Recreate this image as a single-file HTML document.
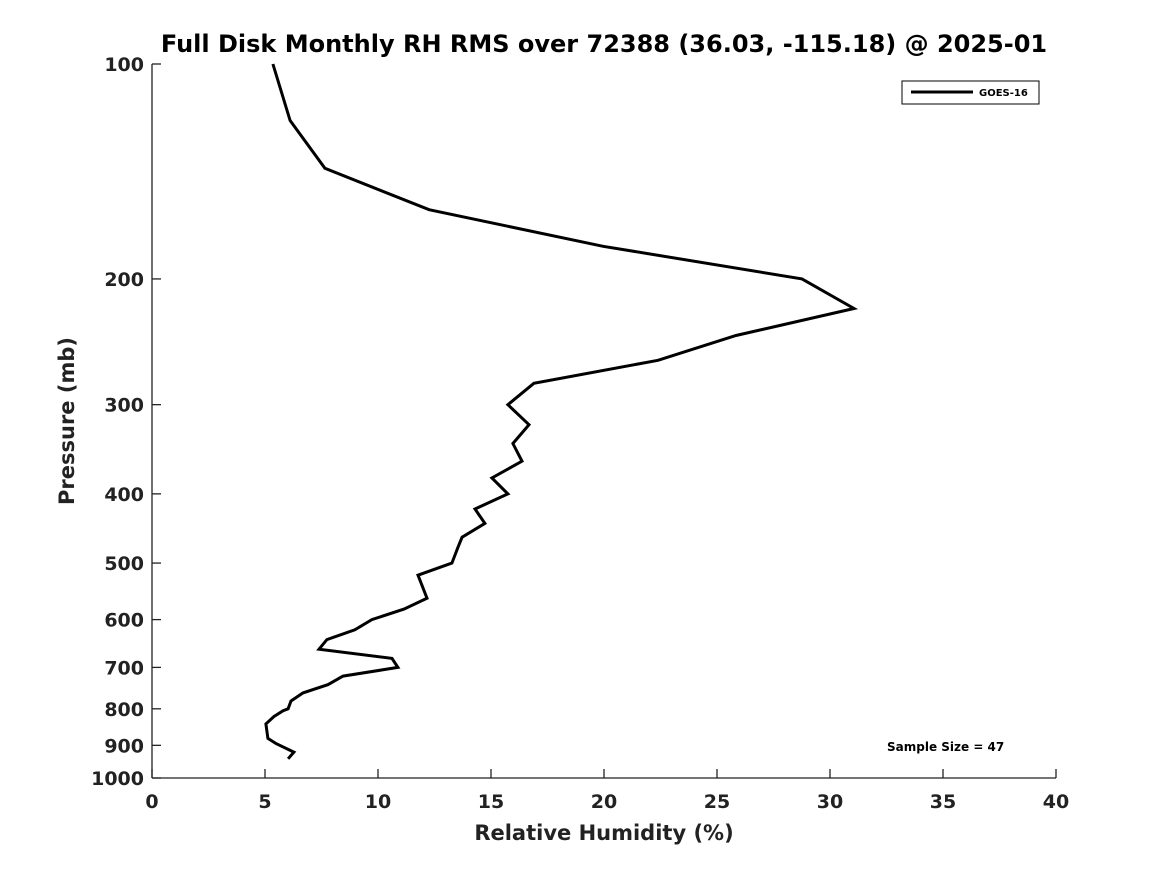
<!DOCTYPE html>
<html><head><meta charset="utf-8"><style>
body{margin:0;background:#fff;}
svg{display:block;font-family:"DejaVu Sans","Liberation Sans",sans-serif;}
</style></head><body>
<svg id="chart" width="1167" height="875" viewBox="0 0 1167 875">
<text x="604" y="52" text-anchor="middle" font-size="24" font-weight="bold" fill="#000">Full Disk Monthly RH RMS over 72388 (36.03, -115.18) @ 2025-01</text>
<g id="axes"></g>
<g id="series"></g>
<g>
<rect x="902" y="81" width="137" height="23" fill="#fff" stroke="#000" stroke-width="1"/>
<line x1="911" y1="92" x2="973" y2="92" stroke="#000" stroke-width="3"/>
<text x="979" y="96" font-size="10" font-weight="bold">GOES-16</text>
</g>
<text x="887" y="751" font-size="12" font-weight="bold">Sample Size = 47</text>
<text x="604" y="840" text-anchor="middle" font-size="21" font-weight="bold" fill="#222">Relative Humidity (%)</text>
<text transform="translate(74,421) rotate(-90)" text-anchor="middle" font-size="21" font-weight="bold" fill="#222">Pressure (mb)</text>
</svg>
<script>
const pressures=[100,120,140,160,180,200,220,240,260,280,300,320,340,360,380,400,420,440,460,475,500,520,560,580,600,620,640,660,680,700,720,740,760,780,800,805,820,840,880,895,920,940];
const rmsValues=[5.35,6.11,7.65,12.26,19.96,28.76,31.06,25.84,22.39,16.9,15.75,16.68,15.97,16.37,15.04,15.75,14.29,14.73,13.72,13.54,13.27,11.77,12.17,11.15,9.73,8.98,7.74,7.39,10.62,10.88,8.45,7.79,6.68,6.15,6.02,5.8,5.4,5.04,5.13,5.49,6.28,6.02];
const xTicks=[0,5,10,15,20,25,30,35,40];
const yTicks=[100,200,300,400,500,600,700,800,900,1000];
const X0=152,X1=1056,Y0=64,Y1=778;
function xs(v){return X0+(v-0)/(40-0)*(X1-X0);}
function ys(p){return Y0+(Math.log10(p)-2)/(1)*(Y1-Y0);}
const NS="http://www.w3.org/2000/svg";
const axes=document.getElementById('axes');
function mk(tag,attrs,parent){const e=document.createElementNS(NS,tag);for(const k in attrs)e.setAttribute(k,attrs[k]);parent.appendChild(e);return e;}
const la=mk('line',{x1:X0,y1:Y0,x2:X0,y2:Y1,stroke:'#222','stroke-width':1.3},axes);


const ba=mk('line',{x1:X0,y1:Y1,x2:X1,y2:Y1,stroke:'#222','stroke-width':1.3},axes);


xTicks.forEach(t=>{
 const x=xs(t);
 const l=mk('line',{x1:x,y1:Y1,x2:x,y2:Y1-9,stroke:'#222','stroke-width':1.3},axes);
 
 
 const tx=mk('text',{x:x,y:Y1+30,'text-anchor':'middle','font-size':19,'font-weight':'bold',fill:'#222'},axes);
 tx.textContent=t;
 
 
});
yTicks.forEach(t=>{
 const y=ys(t);
 const l=mk('line',{x1:X0,y1:y,x2:X0+9,y2:y,stroke:'#222','stroke-width':1.3},axes);
 
 
 const tx=mk('text',{x:X0-8,y:y+7,'text-anchor':'end','font-size':19,'font-weight':'bold',fill:'#222'},axes);
 tx.textContent=t;
 
 
});
const pts=pressures.map((p,i)=>xs(rmsValues[i]).toFixed(1)+','+ys(p).toFixed(1)).join(' ');
const pl=mk('polyline',{points:pts,fill:'none',stroke:'#000','stroke-width':3,'stroke-linejoin':'miter'},document.getElementById('series'));


</script>
</body></html>
